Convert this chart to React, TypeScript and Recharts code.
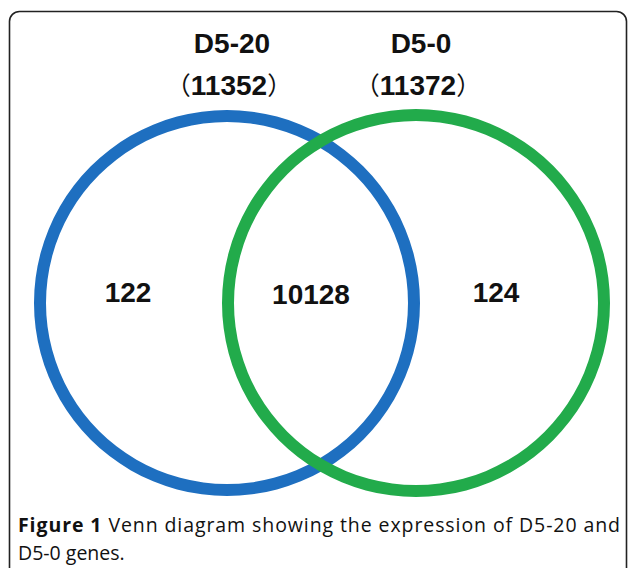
import React from 'react';
import { PieChart, Pie, Cell, Customized } from 'recharts';

const setNames = ['D5-20', 'D5-0'];
const setTotals = [11352, 11372];
// only D5-20, shared, only D5-0
const regionCounts = [122, 10128, 124];
const setColors = ['#1e6fc0', '#22ab4b'];

const captionBold = 'Figure 1';
const captionLine1 = ' Venn diagram showing the expression of D5-20 and';
const captionLine2 = 'D5-0 genes.';

const W = 629;
const H = 568;

const ringA = { cx: 227, cy: 303, r: 193 };
const ringB = { cx: 416, cy: 303, r: 194 };
const ringWidth = 12;

const numFont = '"Liberation Sans", Arial, sans-serif';
const capFont = '"Open Sans", sans-serif';

const Overlay = () => {
  const heads = [
    { x: 232, name: setNames[0], total: setTotals[0] },
    { x: 421, name: setNames[1], total: setTotals[1] },
  ];
  const regionPos = [
    { x: 128, y: 302 },
    { x: 311, y: 304 },
    { x: 496, y: 302 },
  ];
  return (
    <g>
      <rect x={9.5} y={11.5} width={617} height={620} rx={10} fill="none" stroke="#222" strokeWidth={1.6} />
      {heads.map((h) => (
        <g key={h.name}>
          <text x={h.x} y={53} textAnchor="middle" fontFamily={numFont} fontWeight="bold" fontSize={28} fill="#111">
            {h.name}
          </text>
          <text x={h.x - 3} y={95} textAnchor="middle" fontFamily={numFont} fontWeight="bold" fontSize={28} fill="#111">
            <tspan fontFamily='"Noto Sans CJK SC"' fontWeight="normal" fontSize={25}>（</tspan>
            {h.total}
            <tspan fontFamily='"Noto Sans CJK SC"' fontWeight="normal" fontSize={25}>）</tspan>
          </text>
        </g>
      ))}
      {regionCounts.map((c, i) => (
        <text key={i} x={regionPos[i].x} y={regionPos[i].y} textAnchor="middle" fontFamily={numFont} fontWeight="bold" fontSize={28} fill="#111">
          {c}
        </text>
      ))}
      <text x={18} y={532} fontFamily={capFont} fontSize={19.5} fill="#111" textLength={602} lengthAdjust="spacing">
        <tspan fontWeight="bold">{captionBold}</tspan>
        {captionLine1}
      </text>
      <text x={18} y={560} fontFamily={capFont} fontSize={19.5} fill="#111">
        {captionLine2}
      </text>
    </g>
  );
};

export default function App() {
  const rings = [ringA, ringB];
  return (
    <div style={{ position: 'absolute', left: 0, top: 0, width: W, height: H, background: '#fff' }}>
      <PieChart width={W} height={H} margin={{ top: 0, right: 0, bottom: 0, left: 0 }}>
        {setNames.map((name, i) => (
          <Pie
            key={name}
            data={[{ name, value: setTotals[i] }]}
            dataKey="value"
            nameKey="name"
            cx={rings[i].cx}
            cy={rings[i].cy}
            innerRadius={rings[i].r - ringWidth}
            outerRadius={rings[i].r}
            startAngle={90}
            endAngle={-270}
            stroke="none"
            isAnimationActive={false}
          >
            <Cell fill={setColors[i]} />
          </Pie>
        ))}
        <Customized component={Overlay} />
      </PieChart>
    </div>
  );
}
